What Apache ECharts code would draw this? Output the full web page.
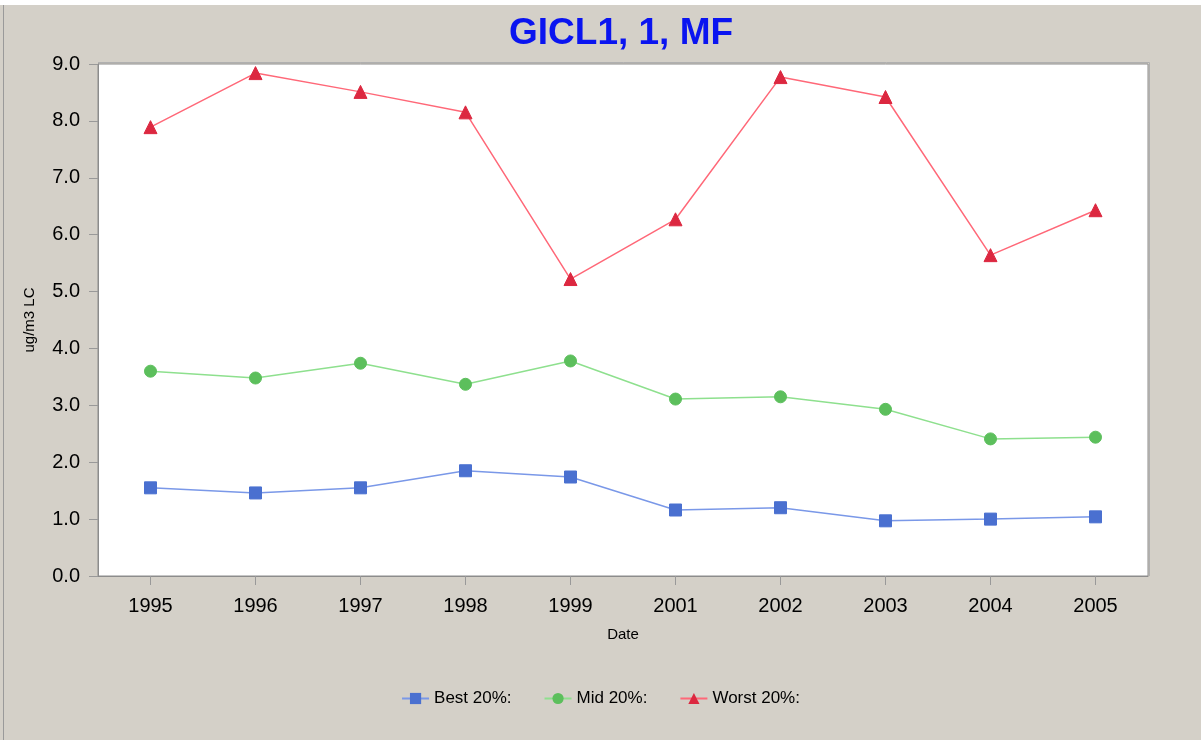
<!DOCTYPE html>
<html>
<head>
<meta charset="utf-8">
<script src="https://cdn.jsdelivr.net/npm/echarts@6/dist/echarts.min.js"></script>
<style>
  html, body { margin: 0; padding: 0; background: #fff; }
  #chart { width: 1201px; height: 740px; }
</style>
</head>
<body>
<div id="chart"></div>
<script>
// data
const years = ['1995', '1996', '1997', '1998', '1999', '2001', '2002', '2003', '2004', '2005']
const best = [1.55, 1.46, 1.55, 1.85, 1.74, 1.16, 1.20, 0.97, 1.00, 1.04]
const mid = [3.60, 3.48, 3.74, 3.37, 3.78, 3.11, 3.15, 2.93, 2.41, 2.44]
const worst = [7.89, 8.84, 8.51, 8.15, 5.22, 6.27, 8.77, 8.42, 5.64, 6.43]
const yTicks = [0, 1, 2, 3, 4, 5, 6, 7, 8, 9]

const font = 'Liberation Sans, Arial, sans-serif'
const chart = echarts.init(document.getElementById('chart'))

function lineSeries (name, data, symbol, size, markColor, lineColor) {
  return {
    name: name,
    type: 'line',
    data: data,
    symbol: symbol,
    symbolSize: size,
    showAllSymbol: true,
    lineStyle: { color: lineColor, width: 1.5 },
    itemStyle: { color: markColor, borderColor: markColor, opacity: 1 },
    emphasis: { disabled: true },
    animation: false
  }
}

chart.setOption({
  backgroundColor: '#d4d0c8',
  graphic: [
    { type: 'rect', shape: { x: 0, y: 0, width: 1201, height: 5 }, style: { fill: '#ffffff' }, silent: true },
    { type: 'rect', shape: { x: 3, y: 5, width: 1, height: 735 }, style: { fill: '#9a9a9a' }, silent: true },
    // shadow on the top/right of the plot frame
    { type: 'polyline', shape: { points: [[98, 62.5], [1149.5, 62.5], [1149.5, 576]] }, style: { stroke: '#b0b0b0', lineWidth: 1, fill: null }, silent: true, z: 10 }
  ],
  title: {
    text: 'GICL1, 1, MF',
    left: 504,
    top: 10,
    textStyle: { color: '#0a14f0', fontSize: 37, fontWeight: 'bold', fontFamily: font }
  },
  legend: {
    bottom: 28,
    left: 'center',
    itemWidth: 27,
    itemHeight: 14,
    itemGap: 32,
    textStyle: { color: '#000', fontSize: 17, fontFamily: font },
    data: ['Best 20%:', 'Mid 20%:', 'Worst 20%:']
  },
  grid: {
    left: 98,
    right: 53,
    top: 64,
    bottom: 164,
    show: true,
    backgroundColor: '#ffffff',
    borderColor: '#8c8c8c',
    borderWidth: 1
  },
  xAxis: {
    type: 'category',
    data: years,
    boundaryGap: true,
    name: 'Date',
    nameLocation: 'middle',
    nameGap: 51,
    nameTextStyle: { color: '#000', fontSize: 15, fontFamily: font },
    axisLine: { lineStyle: { color: '#8c8c8c' } },
    axisTick: { show: true, alignWithLabel: true, length: 9, lineStyle: { color: '#999999' } },
    axisLabel: { color: '#000', fontSize: 20, margin: 20, fontFamily: font },
    splitLine: { show: false }
  },
  yAxis: {
    type: 'value',
    min: yTicks[0],
    max: yTicks[yTicks.length - 1],
    interval: 1,
    name: 'ug/m3 LC',
    nameLocation: 'middle',
    nameGap: 61,
    nameTextStyle: { color: '#000', fontSize: 15, fontFamily: font },
    axisLine: { show: true, lineStyle: { color: '#8c8c8c' } },
    axisTick: { show: true, length: 9, lineStyle: { color: '#999999' } },
    axisLabel: { color: '#000', fontSize: 20, margin: 18, fontFamily: font, formatter: v => v.toFixed(1) },
    splitLine: { show: false }
  },
  series: [
    lineSeries('Best 20%:', best, 'rect', 12, '#4a70d0', '#7a98e8'),
    lineSeries('Mid 20%:', mid, 'circle', 12, '#5cbf5c', '#8ee08e'),
    lineSeries('Worst 20%:', worst, 'triangle', 13, '#dc2840', '#ff6878')
  ]
})
</script>
</body>
</html>
